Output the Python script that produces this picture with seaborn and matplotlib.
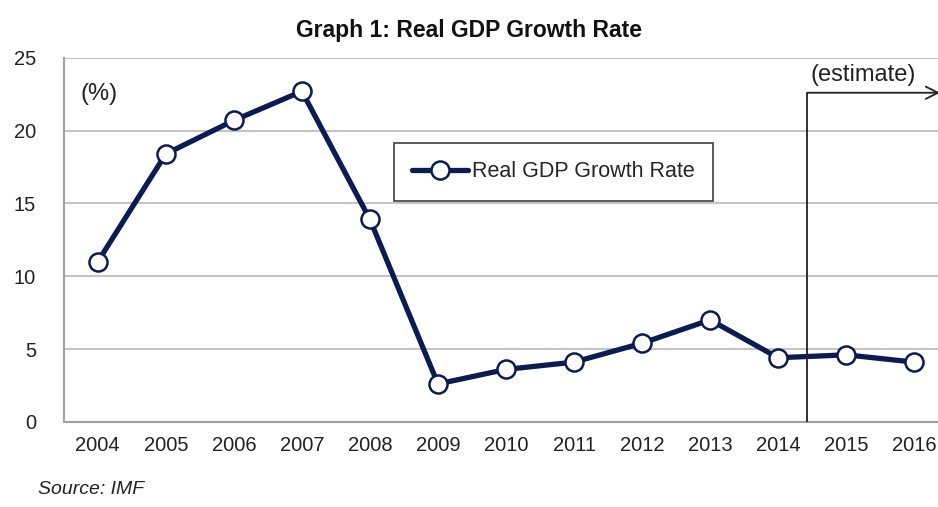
import matplotlib
matplotlib.use("Agg")
import matplotlib.pyplot as plt
import numpy as np
import pandas as pd
import seaborn as sns

years = ["2004", "2005", "2006", "2007", "2008", "2009", "2010",
         "2011", "2012", "2013", "2014", "2015", "2016"]
growth = [11.0, 18.4, 20.7, 22.7, 13.9, 2.6, 3.6, 4.1, 5.4, 7.0, 4.4, 4.6, 4.1]
y_ticks = [0, 5, 10, 15, 20, 25]

NAVY = "#0c1c52"
GRID = "#c4c4c4"

sns.set_theme(style="white")
plt.rcParams["font.family"] = ["Liberation Sans", "DejaVu Sans"]

df = pd.DataFrame({"pos": np.arange(len(years)), "growth": growth})

fig = plt.figure(figsize=(9.38, 5.07), dpi=100)
ax = fig.add_axes([0.068, 0.168, 0.932, 0.718])

for v in y_ticks[1:]:
    ax.axhline(v, color=GRID, lw=1.5, zorder=0)

sns.lineplot(data=df, x="pos", y="growth", ax=ax, color=NAVY, linewidth=3.8,
             marker="o", markersize=13, markerfacecolor="white",
             markeredgecolor=NAVY, markeredgewidth=1.8,
             label="Real GDP Growth Rate", zorder=3)

ax.set_xlim(-0.5, 12.35)
ax.set_ylim(0, 25)
ax.set_yticks(y_ticks)
ax.set_xticks(np.arange(len(years)))
ax.set_xticklabels(years)
ax.set_xticks(np.arange(len(years)) - 0.5, minor=True)
ax.tick_params(axis="x", which="major", length=0, pad=10, labelsize=14.5, labelcolor="#222222")
ax.tick_params(axis="x", which="minor", length=6, width=1.5, color="#a0a0a0", direction="out")
ax.tick_params(axis="y", length=6, width=1.5, color="#a0a0a0", direction="out", pad=14,
               labelsize=14.5, labelcolor="#222222")
ax.set_xlabel("")
ax.set_ylabel("")

for side in ["top", "right"]:
    ax.spines[side].set_visible(False)
for side in ["left", "bottom"]:
    ax.spines[side].set_color("#a0a0a0")
    ax.spines[side].set_linewidth(1.5)

# estimate marker
est_x = 10.43
ax.plot([est_x, est_x], [0, 22.6], color="#222222", lw=1.3, zorder=4)
ax.annotate("", xy=(12.38, 22.6), xytext=(est_x, 22.6),
            arrowprops=dict(arrowstyle="->", color="#222222", lw=1.3,
                            mutation_scale=22, shrinkA=0, shrinkB=0),
            annotation_clip=False)
ax.text(11.25, 23.85, "(estimate)", ha="center", va="center", fontsize=17, color="#222222")
ax.text(0.02, 22.5, "(%)", ha="center", va="center", fontsize=17, color="#222222")

leg = ax.legend(loc="center", bbox_to_anchor=(0.56, 0.687), fontsize=15.5,
                frameon=True, fancybox=False, handlelength=2.6,
                borderpad=0.85, handletextpad=0.15, borderaxespad=0)
leg.get_frame().set_edgecolor("#222222")
leg.get_frame().set_linewidth(1.3)

fig.text(0.5, 0.94, "Graph 1: Real GDP Growth Rate", ha="center", va="center",
         fontsize=16.5, fontweight="bold", color="#111111")
fig.text(0.041, 0.034, "Source: IMF", ha="left", va="center", fontsize=14,
         style="italic", color="#222222")

fig.savefig("out.png", dpi=100)
